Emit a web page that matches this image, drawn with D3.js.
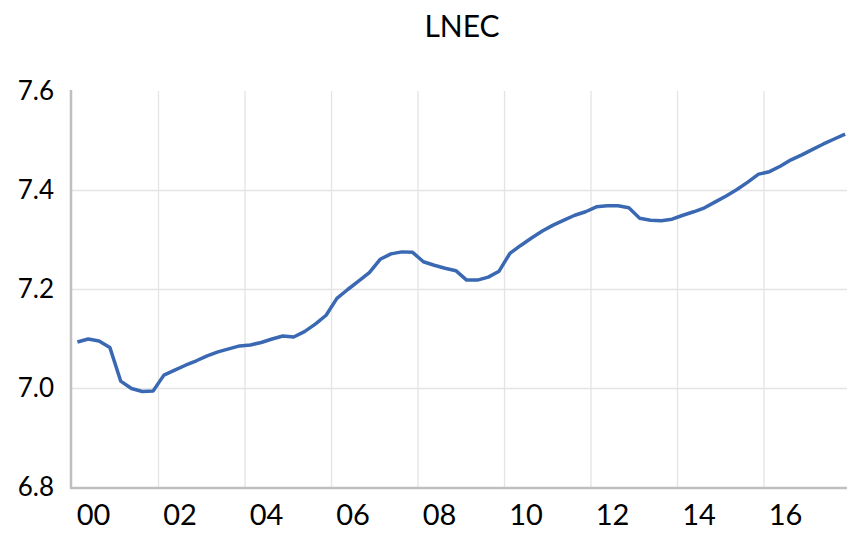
<!DOCTYPE html>
<html>
<head>
<meta charset="utf-8">
<script src="https://cdn.jsdelivr.net/npm/d3@7"></script>
<style>
  html, body { margin: 0; padding: 0; background: #fff; }
  svg { display: block; }
  text { font-family: Lato, "Open Sans", sans-serif; fill: #000; }
</style>
</head>
<body>
<svg id="chart" width="847" height="535"></svg>
<script>
const title = "LNEC";

const categories = [
  "2000Q1","2000Q2","2000Q3","2000Q4","2001Q1","2001Q2","2001Q3","2001Q4",
  "2002Q1","2002Q2","2002Q3","2002Q4","2003Q1","2003Q2","2003Q3","2003Q4",
  "2004Q1","2004Q2","2004Q3","2004Q4","2005Q1","2005Q2","2005Q3","2005Q4",
  "2006Q1","2006Q2","2006Q3","2006Q4","2007Q1","2007Q2","2007Q3","2007Q4",
  "2008Q1","2008Q2","2008Q3","2008Q4","2009Q1","2009Q2","2009Q3","2009Q4",
  "2010Q1","2010Q2","2010Q3","2010Q4","2011Q1","2011Q2","2011Q3","2011Q4",
  "2012Q1","2012Q2","2012Q3","2012Q4","2013Q1","2013Q2","2013Q3","2013Q4",
  "2014Q1","2014Q2","2014Q3","2014Q4","2015Q1","2015Q2","2015Q3","2015Q4",
  "2016Q1","2016Q2","2016Q3","2016Q4","2017Q1","2017Q2","2017Q3","2017Q4"
];

const lnec = [
  7.093, 7.099, 7.095, 7.082, 7.014, 6.999, 6.993, 6.994,
  7.026, 7.036, 7.046, 7.055, 7.065, 7.073, 7.079, 7.085,
  7.087, 7.092, 7.099, 7.105, 7.103, 7.114, 7.129, 7.147,
  7.181, 7.199, 7.216, 7.233, 7.260, 7.271, 7.275, 7.274,
  7.255, 7.248, 7.242, 7.237, 7.218, 7.218, 7.224, 7.236,
  7.272, 7.288, 7.303, 7.317, 7.329, 7.339, 7.349, 7.356,
  7.366, 7.368, 7.368, 7.364, 7.343, 7.339, 7.338, 7.341,
  7.349, 7.356, 7.364, 7.376, 7.388, 7.401, 7.416, 7.432,
  7.437, 7.448, 7.461, 7.471, 7.482, 7.493, 7.503, 7.513
];

const xTickLabels = ["00","02","04","06","08","10","12","14","16"];
const yTicks = [6.8, 7.0, 7.2, 7.4, 7.6];

(function () {
const svg = d3.select("#chart");
const mLeft = 72, mTop = 91, mBottom = 487;
const bandW = 10.8125;
const mRight = mLeft + bandW * categories.length;

const x = d3.scaleBand().domain(categories).range([mLeft, mRight]).padding(0);
const y = d3.scaleLinear().domain([6.8, 7.6]).range([mBottom, mTop]);

// horizontal gridlines
svg.append("g").selectAll("line")
  .data(yTicks.filter(v => v > 6.8 && v < 7.6))
  .join("line")
  .attr("x1", mLeft).attr("x2", 847)
  .attr("y1", d => Math.round(y(d)) + 0.5).attr("y2", d => Math.round(y(d)) + 0.5)
  .attr("stroke", "#e4e4e4").attr("stroke-width", 1.3);

// vertical gridlines at every 8 categories (2-year boundaries)
const groupStarts = categories.filter((c, i) => i % 8 === 0 && i > 0);
svg.append("g").selectAll("line")
  .data(groupStarts)
  .join("line")
  .attr("x1", d => x(d)).attr("x2", d => x(d))
  .attr("y1", mTop).attr("y2", mBottom)
  .attr("stroke", "#e4e4e4").attr("stroke-width", 1.3);

// axes lines
svg.append("line")
  .attr("x1", mLeft - 1).attr("x2", mLeft - 1)
  .attr("y1", mTop - 1).attr("y2", mBottom + 1.5)
  .attr("stroke", "#bfbfbf").attr("stroke-width", 2.5);
svg.append("line")
  .attr("x1", mLeft - 2).attr("x2", 847)
  .attr("y1", mBottom + 1).attr("y2", mBottom + 1)
  .attr("stroke", "#bfbfbf").attr("stroke-width", 2.5);

// y labels
svg.append("g").selectAll("text")
  .data(yTicks)
  .join("text")
  .attr("x", 54)
  .attr("y", d => y(d))
  .attr("dy", "0.36em")
  .attr("text-anchor", "end")
  .attr("font-size", 26)
  .text(d => d.toFixed(1));

// x labels
const labelCats = categories.filter((c, i) => i % 8 === 0);
svg.append("g").selectAll("text")
  .data(labelCats)
  .join("text")
  .attr("x", d => x(d) + bandW * 2)
  .attr("y", 525)
  .attr("text-anchor", "middle")
  .attr("font-size", 29)
  .text((d, i) => xTickLabels[i]);

// title
svg.append("text")
  .attr("x", 462).attr("y", 37)
  .attr("text-anchor", "middle")
  .attr("font-size", 30)
  .text(title);

// line
const line = d3.line()
  .x((d, i) => x(categories[i]) + x.bandwidth() / 2)
  .y(d => y(d));
svg.append("path")
  .datum(lnec)
  .attr("d", line)
  .attr("fill", "none")
  .attr("stroke", "#3a68b2")
  .attr("stroke-width", 3.5)
  .attr("stroke-linejoin", "round");
})();
</script>
</body>
</html>
